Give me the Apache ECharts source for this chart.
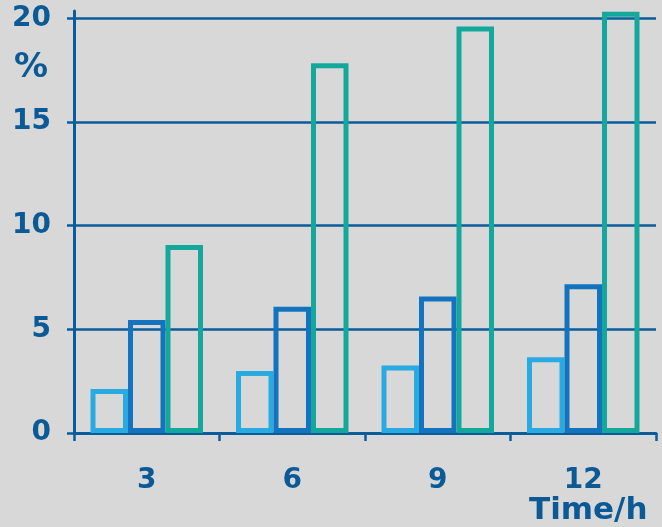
<!DOCTYPE html>
<html>
<head>
<meta charset="utf-8">
<script src="https://cdn.jsdelivr.net/npm/echarts@6/dist/echarts.min.js"></script>
<style>
html,body{margin:0;padding:0;background:#d8d8d8;}
#c{width:662px;height:527px;}
</style>
</head>
<body>
<div id="c"></div>
<script>
const categories = ['3', '6', '9', '12'];
const seriesA = [2.12, 2.99, 3.25, 3.65];
const seriesB = [5.45, 6.09, 6.58, 7.17];
const seriesC = [9.07, 17.83, 19.6, 20.31];
const yTicks = [0, 5, 10, 15, 20];
const yUnit = '%';
const xName = 'Time/h';

const axisColor = '#0b5c9a';
const textColor = '#0b5a96';
const font = 'DejaVu Sans';

const chart = echarts.init(document.getElementById('c'));
function barSeries(data, color) {
  return {
    type: 'bar',
    data: data,
    barWidth: 37.5,
    barGap: '0%',
    itemStyle: { color: 'transparent', borderColor: color, borderWidth: 5 },
    silent: true
  };
}
chart.setOption({
  backgroundColor: '#d8d8d8',
  animation: false,
  grid: { left: 74, right: 6, top: 11, bottom: 94, containLabel: false },
  xAxis: {
    type: 'category',
    data: categories,
    axisLine: { lineStyle: { color: axisColor, width: 3 } },
    axisTick: { show: true, length: 8, lineStyle: { color: axisColor, width: 2.5 } },
    axisLabel: { margin: 34, color: textColor, fontFamily: font, fontWeight: 'bold', fontSize: 28 }
  },
  yAxis: {
    type: 'value',
    min: 0,
    max: 20.35,
    axisLine: { show: true, lineStyle: { color: axisColor, width: 3 } },
    axisTick: { show: true, length: 7, customValues: yTicks, lineStyle: { color: axisColor, width: 2.5 } },
    axisLabel: { customValues: yTicks, margin: 23, color: textColor, fontFamily: font, fontWeight: 'bold', fontSize: 28 },
    splitLine: { show: true, lineStyle: { color: axisColor, width: 2.5 } }
  },
  graphic: [
    { type: 'text', left: 14, top: 51, style: { text: yUnit, fill: textColor, font: 'bold 34px "DejaVu Sans"' } },
    { type: 'text', left: 529, top: 495, style: { text: xName, fill: textColor, font: 'bold 31px "DejaVu Sans"' } }
  ],
  series: [
    barSeries(seriesA, '#29abe2'),
    barSeries(seriesB, '#1473be'),
    barSeries(seriesC, '#14a89c')
  ]
});
</script>
</body>
</html>
